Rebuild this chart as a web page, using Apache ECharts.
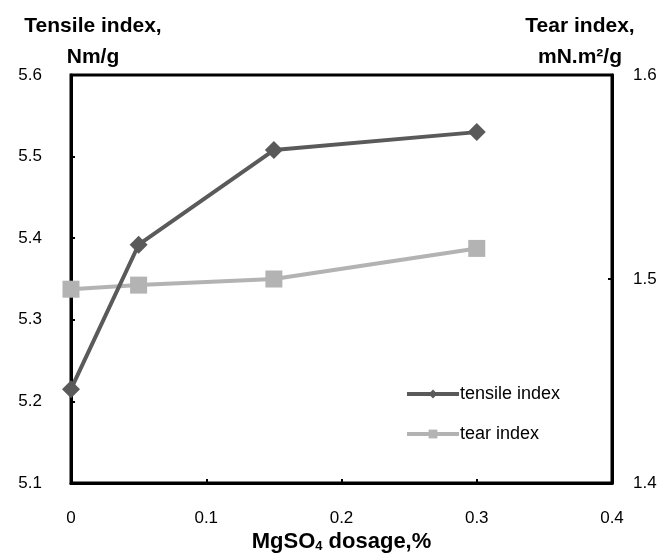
<!DOCTYPE html>
<html>
<head>
<meta charset="utf-8">
<script src="https://cdn.jsdelivr.net/npm/echarts@6/dist/echarts.min.js"></script>
<style>
  html, body { margin: 0; padding: 0; background: #fff; }
  #main { width: 663px; height: 557px; }
</style>
</head>
<body>
<div id="main"></div>
<script>
// MgSO4 dosage vs tensile / tear index
var dosage = [0, 0.05, 0.15, 0.3];
var tensileIndex = [5.215, 5.392, 5.508, 5.530];
var tearIndex = [1.495, 1.497, 1.500, 1.515];

var chart = echarts.init(document.getElementById('main'));

function pairs(xs, ys) {
  return xs.map(function (x, i) { return [x, ys[i]]; });
}

var labelFont = { color: '#000', fontSize: 17, fontFamily: 'Arial, Liberation Sans' };

var option = {
  animation: false,
  backgroundColor: '#fff',
  grid: {
    left: 71, right: 51, top: 75, bottom: 74,
    outerBoundsMode: 'none',
    containLabel: false,
    show: true, borderColor: '#000', borderWidth: 3
  },
  legend: {
    orient: 'vertical',
    left: 400, top: 380,
    itemWidth: 52, itemHeight: 11, itemGap: 22,
    lineStyle: { width: 4 },
    textStyle: { color: '#000', fontSize: 18, fontFamily: 'Arial, Liberation Sans', padding: [0, 0, 0, -4] },
    data: ['tensile index', 'tear index']
  },
  xAxis: {
    type: 'value',
    min: 0, max: 0.4, interval: 0.1,
    name: 'MgSO{sub|4} dosage,%',
    nameLocation: 'middle',
    nameGap: 48,
    nameMoveOverlap: false,
    nameTextStyle: {
      color: '#000', fontSize: 22, fontWeight: 'bold', fontFamily: 'Arial, Liberation Sans',
      rich: { sub: { fontSize: 13, fontWeight: 'bold', verticalAlign: 'bottom', lineHeight: 12, padding: [12, 0, 0, 0] } }
    },
    axisLine: { lineStyle: { color: '#000', width: 3 } },
    axisTick: { inside: true, length: 4, lineStyle: { color: '#000', width: 2 } },
    axisLabel: Object.assign({ margin: 27, formatter: function (v) { return v === 0 ? '0' : v.toFixed(1); } }, labelFont),
    splitLine: { show: false }
  },
  yAxis: [{
    type: 'value',
    min: 5.1, max: 5.6, interval: 0.1,
    name: 'Tensile index,\nNm/g',
    nameLocation: 'end',
    nameGap: 2,
    nameMoveOverlap: false,
    nameTextStyle: {
      color: '#000', fontSize: 21, fontWeight: 'bold', fontFamily: 'Arial, Liberation Sans',
      lineHeight: 31, align: 'center', padding: [0, 0, 0, 44]
    },
    axisLine: { show: true, lineStyle: { color: '#000', width: 3 } },
    axisTick: { inside: true, length: 4, lineStyle: { color: '#000', width: 2 } },
    axisLabel: Object.assign({ margin: 29, formatter: function (v) { return v.toFixed(1); } }, labelFont),
    splitLine: { show: false }
  }, {
    type: 'value',
    position: 'right',
    min: 1.4, max: 1.6, interval: 0.1,
    name: 'Tear index,\nmN.m²/g',
    nameLocation: 'end',
    nameGap: 2,
    nameMoveOverlap: false,
    nameTextStyle: {
      color: '#000', fontSize: 21, fontWeight: 'bold', fontFamily: 'Arial, Liberation Sans',
      lineHeight: 31, align: 'center', padding: [0, 64, 0, 0]
    },
    axisLine: { show: true, lineStyle: { color: '#000', width: 3 } },
    axisTick: { inside: true, length: 4, lineStyle: { color: '#000', width: 2 } },
    axisLabel: Object.assign({ margin: 21, formatter: function (v) { return v.toFixed(1); } }, labelFont),
    splitLine: { show: false }
  }],
  series: [{
    name: 'tensile index',
    type: 'line',
    yAxisIndex: 0,
    data: pairs(dosage, tensileIndex),
    symbol: 'diamond',
    symbolSize: 18,
    itemStyle: { color: '#5a5a5a' },
    lineStyle: { color: '#5a5a5a', width: 4 },
    z: 3
  }, {
    name: 'tear index',
    type: 'line',
    yAxisIndex: 1,
    data: pairs(dosage, tearIndex),
    symbol: 'rect',
    symbolSize: 17,
    itemStyle: { color: '#b3b3b3' },
    lineStyle: { color: '#b3b3b3', width: 4 },
    z: 2
  }]
};

chart.setOption(option);
</script>
</body>
</html>
